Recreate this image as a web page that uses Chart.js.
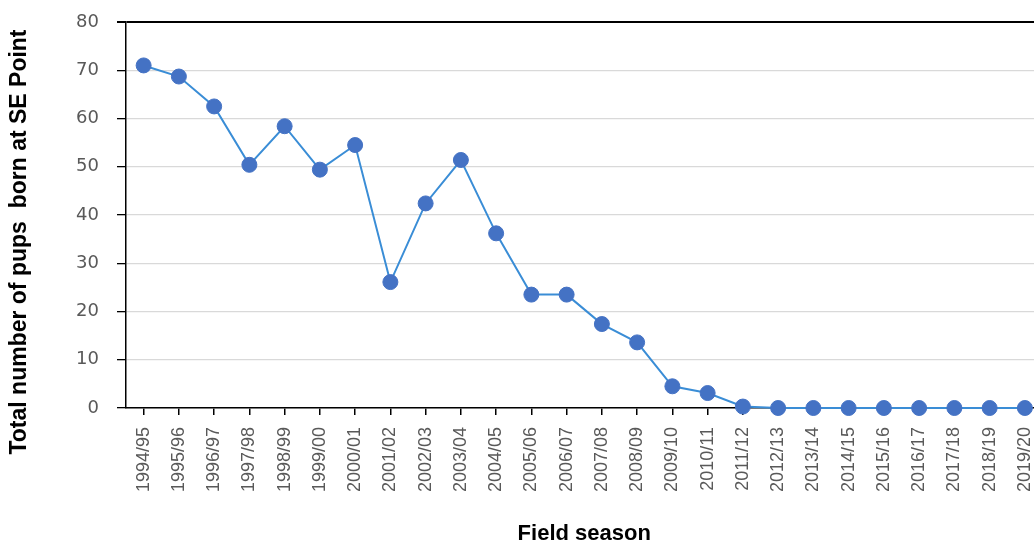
<!DOCTYPE html>
<html lang="en">
<head>
<meta charset="UTF-8">
<title>Pups born at SE Point</title>
<script src="https://cdn.jsdelivr.net/npm/chart.js"></script>
<style>
    html, body { margin: 0; padding: 0; overflow: hidden; background: #fff; }
    #wrap { width: 1051px; height: 547px; }
</style>
</head>
<body>
<div id="wrap"><canvas id="pupChart" width="1051" height="547"></canvas></div>
<script>
    // Field seasons on the x axis
    const seasons = ['1994/95', '1995/96', '1996/97', '1997/98', '1998/99', '1999/00', '2000/01',
        '2001/02', '2002/03', '2003/04', '2004/05', '2005/06', '2006/07', '2007/08', '2008/09',
        '2009/10', '2010/11', '2011/12', '2012/13', '2013/14', '2014/15', '2015/16', '2016/17',
        '2017/18', '2018/19', '2019/20'];

    // Total number of pups born at SE Point
    const pups = [71, 68.7, 62.5, 50.4, 58.4, 49.4, 54.5, 26.1, 42.4, 51.4, 36.2, 23.5, 23.5,
        17.4, 13.6, 4.5, 3.1, 0.3, 0, 0, 0, 0, 0, 0, 0, 0];

    const yTicks = [0, 10, 20, 30, 40, 50, 60, 70, 80];

    const yTitle = 'Total number of pups  born at SE Point';
    const xTitle = 'Field season';

    // y axis title, placed a bit lower than the plot centre like the original
    const yTitlePlugin = {
        id: 'yTitle',
        afterDraw(chart) {
            const ctx = chart.ctx;
            const area = chart.chartArea;
            ctx.save();
            ctx.translate(20, (area.top + area.bottom) / 2 + 27);
            ctx.rotate(-Math.PI / 2);
            ctx.font = 'bold 23px "Liberation Sans", Arial, sans-serif';
            ctx.fillStyle = '#000';
            ctx.textAlign = 'center';
            ctx.textBaseline = 'middle';
            ctx.fillText(yTitle, 0, 0);
            ctx.restore();
        }
    };

    new Chart(document.getElementById('pupChart'), {
        type: 'line',
        data: {
            labels: seasons,
            datasets: [{
                data: pups,
                borderColor: '#3a8dd6',
                borderWidth: 2,
                pointRadius: 7.5,
                pointBackgroundColor: '#4472c4',
                pointBorderColor: '#4472c4',
                pointBorderWidth: 1,
                tension: 0,
                clip: false
            }]
        },
        options: {
            responsive: false,
            animation: false,
            layout: { padding: { left: 0, top: 22, right: 1, bottom: 0 } },
            plugins: {
                legend: { display: false },
                tooltip: { enabled: false }
            },
            scales: {
                x: {
                    offset: true,
                    grid: {
                        offset: false,
                        drawOnChartArea: false,
                        tickLength: 7,
                        tickColor: '#000',
                        lineWidth: 1.5
                    },
                    border: { color: '#000', width: 1.5 },
                    ticks: {
                        minRotation: 90,
                        maxRotation: 90,
                        autoSkip: false,
                        padding: 12,
                        color: '#595959',
                        font: { family: '"Liberation Sans", Arial, sans-serif', size: 18 }
                    },
                    title: {
                        display: true,
                        text: xTitle,
                        color: '#000',
                        padding: { top: 0, bottom: 0 },
                        font: { family: '"Liberation Sans", Arial, sans-serif', size: 22, weight: 'bold' }
                    },
                    afterFit(scale) {
                        scale.height = 139;
                        scale.paddingLeft = 0;
                        scale.paddingRight = 0;
                    }
                },
                y: {
                    min: 0,
                    max: 80,
                    afterBuildTicks(scale) {
                        scale.ticks = yTicks.map(v => ({ value: v }));
                    },
                    grid: {
                        color: c => (c.tick && c.tick.value === 80) ? '#000' : '#d9d9d9',
                        lineWidth: c => (c.tick && c.tick.value === 80) ? 2 : 1.3,
                        tickColor: '#000',
                        tickLength: 9
                    },
                    border: { color: '#000', width: 1.5 },
                    ticks: {
                        padding: 18,
                        color: '#595959',
                        font: { family: '"DejaVu Sans", sans-serif', size: 18 }
                    },
                    afterFit(scale) {
                        scale.width = 126;
                        scale.paddingTop = 0;
                        scale.paddingBottom = 0;
                    }
                }
            }
        },
        plugins: [yTitlePlugin]
    });
</script>
</body>
</html>
